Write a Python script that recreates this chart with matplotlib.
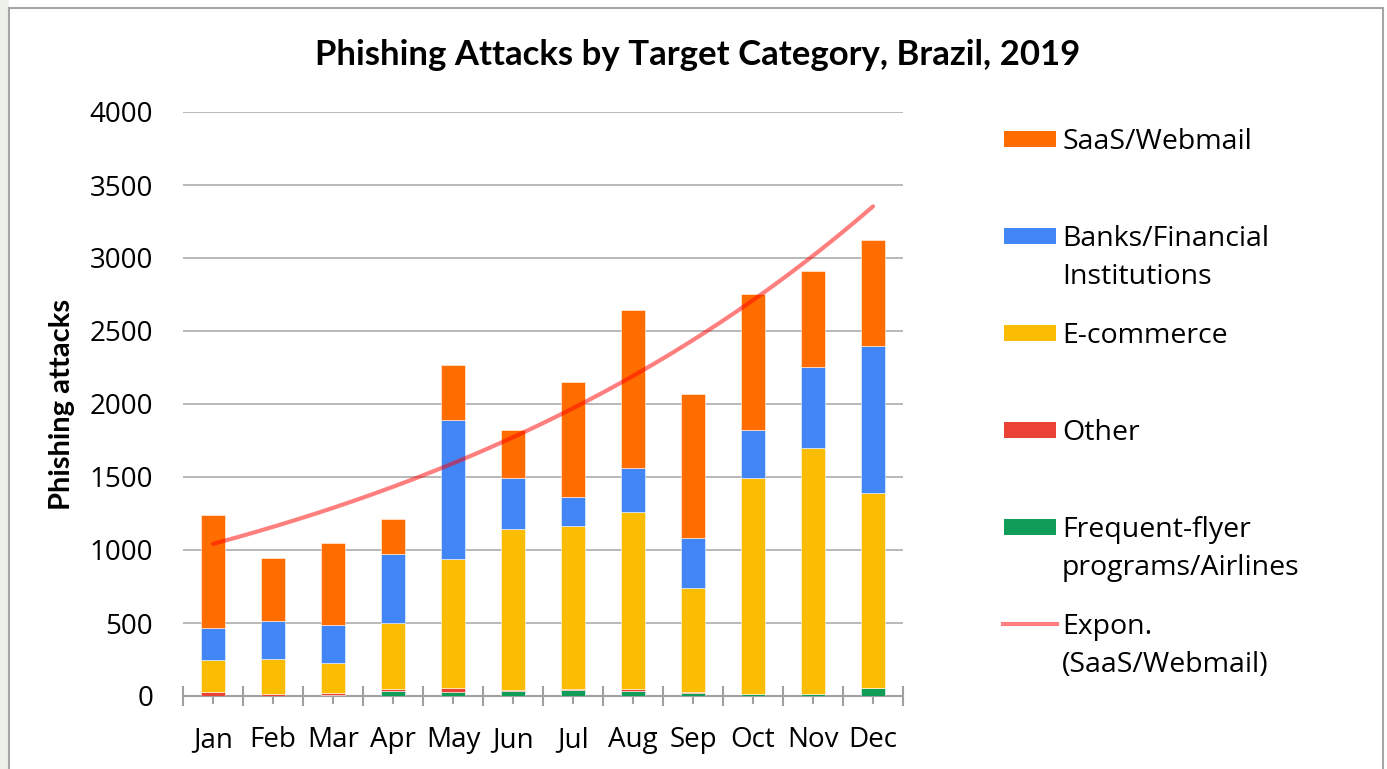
import numpy as np
import matplotlib
matplotlib.use("Agg")
import matplotlib.pyplot as plt
from matplotlib.patches import Rectangle
from matplotlib.lines import Line2D

months = ["Jan", "Feb", "Mar", "Apr", "May", "Jun", "Jul", "Aug", "Sep", "Oct", "Nov", "Dec"]
frequent_flyer = [0, 0, 8, 32, 30, 32, 39, 34, 18, 16, 16, 53]
other = [27, 15, 10, 16, 25, 11, 11, 14, 9, 0, 0, 0]
ecommerce = [220, 238, 206, 450, 884, 1101, 1112, 1210, 711, 1479, 1683, 1338]
banks = [217, 259, 260, 477, 954, 347, 199, 306, 346, 329, 557, 1007]
saas = [776, 431, 562, 238, 377, 333, 792, 1082, 987, 932, 655, 728]

series_names = [["Frequent-flyer", "programs/Airlines"], ["Other"], ["E-commerce"],
                ["Banks/Financial", "Institutions"], ["SaaS/Webmail"]]
series_colors = ["#0F9D58", "#EA4335", "#FBBC04", "#4285F4", "#FF6D01"]
trend_label = ["Expon.", "(SaaS/Webmail)"]
yticks = [0, 500, 1000, 1500, 2000, 2500, 3000, 3500, 4000]

W, H = 1387, 769
fig = plt.figure(figsize=(W / 100, H / 100), dpi=100)

# slide background strip and chart border
fig.patches.append(Rectangle((0, 0), 9 / W, 1, transform=fig.transFigure,
                             facecolor="#eef1ea", edgecolor="none", zorder=-2))
fig.patches.append(Rectangle((9 / W, -0.01), (1383 - 9) / W, 1 - 8 / H + 0.01,
                             transform=fig.transFigure, facecolor="white",
                             edgecolor="#a6a6a6", linewidth=1.5, zorder=-1))

ax = fig.add_axes([183 / W, 1 - 696 / H, (903 - 183) / W, (696 - 112) / H])
ax.set_zorder(2)
ax.set_facecolor("none")

x = np.arange(len(months))
data = [frequent_flyer, other, ecommerce, banks, saas]
bottom = np.zeros(len(months))
for vals, col in zip(data, series_colors):
    vals = np.array(vals, dtype=float)
    ax.bar(x, vals, width=0.4, bottom=bottom, color=col,
           edgecolor=(1, 1, 1, 0.6), linewidth=0.6, zorder=3)
    bottom = bottom + vals

# exponential trendline fitted to the stacked totals
coef = np.polyfit(x + 1, np.log(bottom), 1)
xs = np.linspace(0, len(months) - 1, 200)
ax.plot(xs, np.exp(np.polyval(coef, xs + 1)), color="#FF0000", alpha=0.5,
        linewidth=3, zorder=4, solid_capstyle="round")

ax.set_xlim(-0.5, len(months) - 0.5)
ax.set_ylim(0, 4000)
ax.set_yticks(yticks)
ax.set_yticklabels([str(v) for v in yticks], fontsize=20, family="Open Sans")
ax.tick_params(axis="y", length=0, pad=21.5)
ax.yaxis.grid(True, color="#b3b3b3", linewidth=1.3, zorder=0)
ax.set_axisbelow(True)

ax.set_xticks(x)
ax.set_xticklabels(months, fontsize=20, family="Open Sans")
ax.set_xticks(np.arange(-0.5, len(months), 1), minor=True)
ax.tick_params(axis="x", which="major", direction="inout", length=11,
               width=1.5, color="#a0a0a0", pad=16)
ax.tick_params(axis="x", which="minor", direction="inout", length=15,
               width=1.5, color="#a0a0a0")

for s in ["top", "right", "left"]:
    ax.spines[s].set_visible(False)
ax.spines["bottom"].set_color("#a0a0a0")
ax.spines["bottom"].set_linewidth(1.5)

ax.set_ylabel("Phishing attacks", fontsize=21, fontweight="bold", family="Lato")
ax.yaxis.set_label_coords((75 - 183) / 720, 0.5)

fig.text(698 / W, 1 - 55 / H, "Phishing Attacks by Target Category, Brazil, 2019",
         ha="center", va="center", fontsize=25, fontweight="bold", family="Lato")

# legend drawn manually (top to bottom)
def legend_text(yc, lines):
    for k, line in enumerate(lines):
        fig.text(1062 / W, 1 - (yc + 10 + 38 * k) / H, line, ha="left",
                 va="baseline", fontsize=20.5, family="Open Sans")

legend_order = [4, 3, 2, 1, 0]
ys = [139, 236, 333, 430, 527]
for idx, yc in zip(legend_order, ys):
    fig.patches.append(Rectangle((1004 / W, 1 - (yc + 8) / H), 52 / W, 16 / H,
                                 transform=fig.transFigure,
                                 facecolor=series_colors[idx], edgecolor="none"))
    legend_text(yc, series_names[idx])
fig.lines.append(Line2D([1003 / W, 1057 / W], [1 - 624 / H, 1 - 624 / H],
                        transform=fig.transFigure, color="#FF0000", alpha=0.5,
                        linewidth=3))
legend_text(624, trend_label)

fig.savefig("out.png", dpi=100)
